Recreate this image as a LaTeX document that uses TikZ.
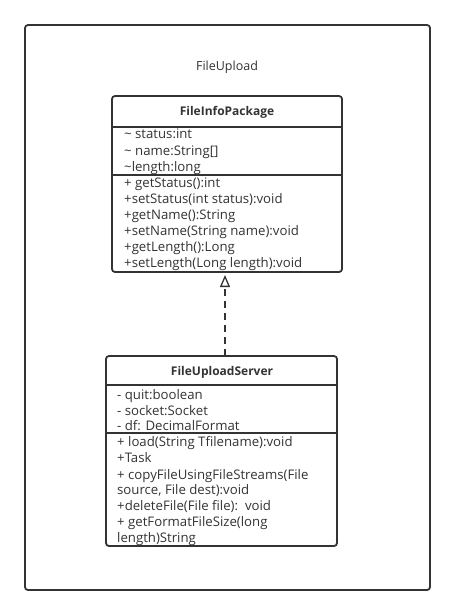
\documentclass[tikz,border=0pt]{standalone}
\usepackage{fontspec}
\setmainfont{Open Sans}
\usetikzlibrary{arrows.meta}
\definecolor{ln}{HTML}{333333}
\definecolor{tx}{HTML}{333333}
\tikzset{
  frame/.style={draw=ln, line width=1.8pt, rounded corners=3pt},
  classbox/.style={draw=ln, line width=1.8pt, rounded corners=3pt, inner sep=0pt},
  divider/.style={draw=ln, line width=1.4pt},
  member/.style={anchor=west, inner sep=0pt, text height=9pt, text depth=3pt, text=tx, font=\fontsize{13.2}{15}\selectfont},
  ctitle/.style={inner sep=0pt, text=tx, font=\fontsize{12}{14}\selectfont\bfseries},
  realize/.style={draw=ln, line width=1.5pt, dash pattern=on 7pt off 5pt, -{Triangle[open, length=12pt, width=10pt, line width=1.3pt]}}
}
\begin{document}
\begin{tikzpicture}[x=1pt,y=-1pt]
\useasboundingbox (0,0) rectangle (455,616);
% outer package frame
\draw[frame] (25,25) rectangle (430,590);
\node[inner sep=0pt, text=tx, font=\fontsize{12.5}{14}\selectfont] (pkgname) at (227,67) {FileUpload};

% FileInfoPackage
\draw[classbox] (112,96) rectangle (342,272);
\draw[divider] (112,127) -- (342,127);
\draw[divider] (112,175) -- (342,175);
\node[ctitle] (infotitle) at (227,112) {FileInfoPackage};
\node[member] (i1) at (124,135) {\~{} status:int};
\node[member] (i2) at (124,152) {\~{} name:String[]};
\node[member] (i3) at (124,168) {\~{}length:long};
\node[member] (i4) at (124,184) {+ getStatus():int};
\node[member] (i5) at (124,200) {+setStatus(int status):void};
\node[member] (i6) at (124,216) {+getName():String};
\node[member] (i7) at (124,232) {+setName(String name):void};
\node[member] (i8) at (124,248) {+getLength():Long};
\node[member] (i9) at (124,264) {+setLength(Long length):void};

% FileUploadServer
\draw[classbox] (106,356) rectangle (337,546);
\coordinate (server) at (225,356);
\draw[divider] (106,385) -- (337,385);
\draw[divider] (106,433) -- (337,433);
\node[ctitle] (servtitle) at (222,372) {FileUploadServer};
\node[member] (s1) at (117,396) {- quit:boolean};
\node[member] (s2) at (117,412) {- socket:Socket};
\node[member] (s3) at (117,427) {- df: DecimalFormat};
\node[member] (s4) at (117,443) {+ load(String Tfilename):void};
\node[member] (s5) at (117,459) {+Task};
\node[member] (s6) at (117,476) {+ copyFileUsingFileStreams(File};
\node[member] (s7) at (117,491) {source, File dest):void};
\node[member] (s8) at (117,507) {+deleteFile(File file):~~void};
\node[member] (s9) at (117,523) {+ getFormatFileSize(long};
\node[member] (s10) at (117,539) {length)String};

% realization
\coordinate (tip) at (225,275);
\draw[realize] (server) -- (tip);
\end{tikzpicture}
\end{document}
